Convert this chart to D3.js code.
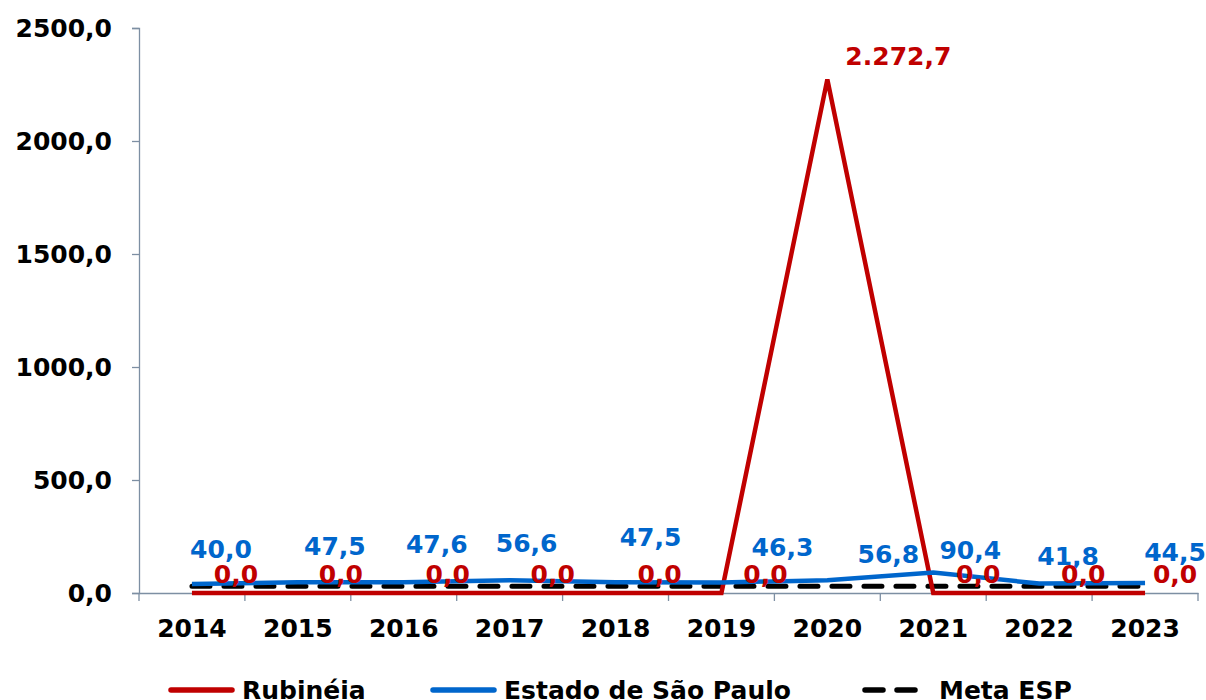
<!DOCTYPE html>
<html>
<head>
<meta charset="utf-8">
<script src="https://cdn.jsdelivr.net/npm/d3@7"></script>
<style>
  body { margin: 0; background: #fff; }
  text { font-family: "DejaVu Sans", Verdana, sans-serif; font-weight: bold; }
</style>
</head>
<body>
<div id="chart"></div>
<script>
// Data
const years = ["2014", "2015", "2016", "2017", "2018", "2019", "2020", "2021", "2022", "2023"];
const rubineia = [0, 0, 0, 0, 0, 0, 2272.7, 0, 0, 0];
const estadoSP = [40.0, 47.5, 47.6, 56.6, 47.5, 46.3, 56.8, 90.4, 41.8, 44.5];
const metaESP = [30, 30, 30, 30, 30, 30, 30, 30, 30, 30];
const yTicks = [0, 500, 1000, 1500, 2000, 2500];

// Hand placed label offsets (as in the original sheet)
const blueDx = [29, 37, 33, 17, 35, 61, 61, 37, 29, 30];
const blueY = [558, 555, 553, 552, 546, 556, 563, 559, 565, 561];
const redDx = [44, 43, 44, 43, 44, 44, 71, 45, 44, 30];

const svgWidth = 1206;
const svgHeight = 700;
const margin = { top: 28, right: 8, bottom: 107, left: 139 };

// labels use a thousands dot, axis ticks do not
const fmtLabel = v => {
  const s = v.toFixed(1).split(".");
  return s[0].replace(/\B(?=(\d{3})+(?!\d))/g, ".") + "," + s[1];
};
const fmtTick = v => v.toFixed(1).replace(".", ",");

const svg = d3.select("#chart")
  .append("svg")
  .attr("width", svgWidth)
  .attr("height", svgHeight);

const xScale = d3.scaleBand()
  .domain(years)
  .range([margin.left, svgWidth - margin.right]);

const yScale = d3.scaleLinear()
  .domain([0, 2500])
  .range([svgHeight - margin.bottom, margin.top]);

const cx = i => xScale(years[i]) + xScale.bandwidth() / 2;

// y axis
const yAxis = svg.append("g")
  .attr("transform", `translate(${margin.left}, 0)`)
  .call(d3.axisLeft(yScale).tickValues(yTicks).tickSize(7).tickFormat(fmtTick));
yAxis.selectAll("line, path").attr("stroke", "#7d8fa3").attr("stroke-width", 1.3);
yAxis.selectAll("text")
  .attr("x", -27)
  .style("font-size", "25px")
  .attr("fill", "#000");

// x axis
const xAxis = svg.append("g")
  .attr("transform", `translate(0, ${yScale(0)})`)
  .call(d3.axisBottom(xScale).tickSize(0).tickSizeOuter(0));
xAxis.select("path").attr("stroke", "#7d8fa3").attr("stroke-width", 1.3);
xAxis.selectAll("text")
  .attr("y", 36)
  .attr("dy", "0.32em")
  .style("font-size", "25px")
  .attr("fill", "#000");

// x tick marks between categories
const bounds = years.map(y => xScale(y)).concat([xScale.range()[1]]);
svg.append("g")
  .selectAll("line")
  .data(bounds)
  .enter()
  .append("line")
  .attr("x1", d => d)
  .attr("x2", d => d)
  .attr("y1", yScale(0))
  .attr("y2", yScale(0) + 8)
  .attr("stroke", "#7d8fa3")
  .attr("stroke-width", 1.3);

const line = d3.line()
  .x((d, i) => cx(i))
  .y(d => yScale(d));

// Meta ESP
svg.append("path")
  .datum(metaESP)
  .attr("d", line)
  .attr("fill", "none")
  .attr("stroke", "#000")
  .attr("stroke-width", 5)
  .attr("stroke-dasharray", "18,14")
  .attr("stroke-linecap", "round");

// Rubinéia
svg.append("path")
  .datum(rubineia)
  .attr("d", line)
  .attr("fill", "none")
  .attr("stroke", "#C00000")
  .attr("stroke-width", 4.5);

// Estado de São Paulo
svg.append("path")
  .datum(estadoSP)
  .attr("d", line)
  .attr("fill", "none")
  .attr("stroke", "#0066CC")
  .attr("stroke-width", 4.5);

// Blue labels
svg.append("g")
  .selectAll("text")
  .data(estadoSP)
  .enter()
  .append("text")
  .attr("x", (d, i) => cx(i) + blueDx[i])
  .attr("y", (d, i) => blueY[i])
  .attr("text-anchor", "middle")
  .style("font-size", "25px")
  .attr("fill", "#0066CC")
  .text(d => fmtLabel(d));

// Red labels
svg.append("g")
  .selectAll("text")
  .data(rubineia)
  .enter()
  .append("text")
  .attr("x", (d, i) => cx(i) + redDx[i])
  .attr("y", d => d > 0 ? yScale(d) - 14 : 583)
  .attr("text-anchor", "middle")
  .style("font-size", "25px")
  .attr("fill", "#C00000")
  .text(d => fmtLabel(d));

// Legend
const legendItems = [
  { name: "Rubinéia", color: "#C00000", dash: null, x: 168 },
  { name: "Estado de São Paulo", color: "#0066CC", dash: null, x: 430 },
  { name: "Meta ESP", color: "#000", dash: "18,14", x: 862 }
];
const legend = svg.append("g");
legendItems.forEach(item => {
  legend.append("line")
    .attr("x1", item.x + 3)
    .attr("x2", item.x + 64)
    .attr("y1", 690)
    .attr("y2", 690)
    .attr("stroke", item.color)
    .attr("stroke-width", 5.5)
    .attr("stroke-linecap", "round")
    .attr("stroke-dasharray", item.dash);
  legend.append("text")
    .attr("x", item.name === "Meta ESP" ? item.x + 77 : item.x + 74)
    .attr("y", 699)
    .style("font-size", "25px")
    .attr("fill", "#000")
    .text(item.name);
});
</script>
</body>
</html>
